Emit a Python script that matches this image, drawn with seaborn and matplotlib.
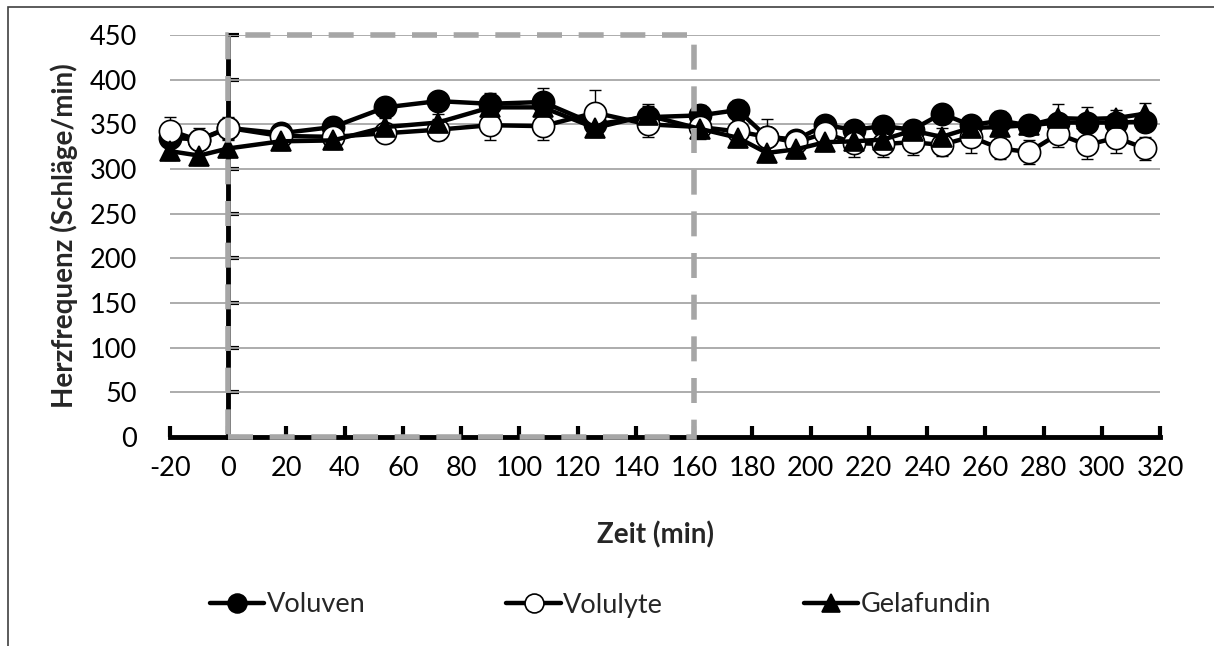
import matplotlib
matplotlib.use("Agg")
import matplotlib.pyplot as plt
from matplotlib.patches import Rectangle
import seaborn as sns

# ---- data ----
time_min = [-20, -10, 0, 18, 36, 54, 72, 90, 108, 126, 144, 162, 175, 185, 195,
            205, 215, 225, 235, 245, 255, 265, 275, 285, 295, 305, 315]
voluven = [335, 333, 346, 340, 347, 369, 376, 373, 375, 350, 358, 360, 366, 336, 333,
           349, 344, 348, 344, 362, 349, 354, 349, 352, 352, 352, 353]
voluven_err = [10, 10, 10, 10, 10, 10, 10, 12, 16, 10, 12, 12, 11, 10, 10,
               10, 10, 10, 10, 10, 10, 11, 10, 10, 10, 10, 10]
volulyte = [343, 332, 346, 337, 336, 340, 344, 349, 348, 363, 350, 347, 342, 336, 330,
            340, 329, 328, 330, 327, 336, 323, 319, 339, 327, 335, 323]
volulyte_err = [15, 14, 12, 10, 10, 10, 12, 17, 15, 25, 14, 13, 12, 20, 10,
                12, 16, 15, 14, 12, 18, 12, 13, 14, 16, 17, 13]
gelafundin = [320, 315, 323, 331, 332, 347, 352, 369, 369, 346, 360, 345, 335, 318, 322,
              330, 331, 333, 343, 336, 346, 347, 349, 357, 356, 357, 362]
gelafundin_err = [10, 10, 10, 10, 10, 10, 10, 10, 10, 10, 13, 10, 10, 10, 10,
                  10, 10, 10, 10, 10, 10, 10, 10, 16, 13, 9, 12]

x_ticks = list(range(-20, 321, 20))
y_ticks = list(range(0, 451, 50))
window_start, window_end = 0, 160

# ---- style ----
sns.set_style("white")
plt.rcParams['font.family'] = ['Lato', 'DejaVu Sans']
plt.rcParams['axes.unicode_minus'] = False

W, H = 1214, 646
fig = plt.figure(figsize=(W / 100, H / 100), dpi=100)
ax = fig.add_axes([170 / W, 1 - 437 / H, 990 / W, 402 / H])

series = [
    ("Voluven", voluven, voluven_err, 'o', 'black', 3),
    ("Volulyte", volulyte, volulyte_err, 'o', 'white', 4),
    ("Gelafundin", gelafundin, gelafundin_err, '^', 'black', 5),
]

for name, vals, err, mk, fc, z in series:
    ax.errorbar(time_min, vals, yerr=err, fmt='none', ecolor='black',
                elinewidth=1.0, capsize=4, capthick=1.0, zorder=2.5, clip_on=False)

for name, vals, err, mk, fc, z in series:
    sns.lineplot(x=time_min, y=vals, ax=ax, color='black', linewidth=3.2,
                 marker=mk, markersize=16 if mk == 'o' else 15,
                 markerfacecolor=fc, markeredgecolor='black', markeredgewidth=1.2,
                 label=name, zorder=z, clip_on=False, errorbar=None)

ax.set_xlim(-20, 320)
ax.set_ylim(0, 450)
ax.set_xticks(x_ticks)
ax.set_yticks(y_ticks)

ax.yaxis.grid(True, color='#A6A6A6', linewidth=1.3)
ax.xaxis.grid(False)
ax.set_axisbelow(True)

for s in ['top', 'right', 'left']:
    ax.spines[s].set_visible(False)
ax.spines['bottom'].set_linewidth(3.5)
ax.spines['bottom'].set_color('black')
ax.spines['bottom'].set_zorder(6)

ax.tick_params(axis='y', left=False, length=0, pad=24, labelsize=19.5, colors='black')
ax.tick_params(axis='x', bottom=True, direction='in', length=8, width=3, pad=14,
               labelsize=19.5, colors='black')

# vertical axis crossing at x = 0
sec = ax.secondary_yaxis((0 - (-20)) / 340)
sec.set_yticks(y_ticks)
sec.spines['left'].set_linewidth(3.5)
sec.spines['left'].set_color('black')
sec.tick_params(axis='y', left=True, direction='in', length=8, width=3,
                labelleft=False, color='black')

# dashed grey window
ax.add_patch(Rectangle((window_start, 0), window_end - window_start, 450,
                       fill=False, edgecolor='#A6A6A6', linewidth=4,
                       linestyle=(0, (4.5, 3)), zorder=10, clip_on=False))

ax.set_xlabel("Zeit (min)", fontsize=20, fontweight='bold')
ax.set_ylabel("Herzfrequenz (Schläge/min)", fontsize=20, fontweight='bold')
ax.xaxis.set_label_coords((655 - 170) / 990, -0.21)
ax.yaxis.set_label_coords((78 - 170) / 990, 0.5)

handles, labels = ax.get_legend_handles_labels()
leg = ax.legend(handles, labels, ncol=3, frameon=False, fontsize=19.5,
                loc='center left', bbox_to_anchor=(210 / W, 1 - 605 / H),
                bbox_transform=fig.transFigure, borderpad=0, borderaxespad=0,
                handlelength=2.0, handletextpad=0.1, columnspacing=5.2,
                markerscale=0.85)

# outer chart frame
fig.add_artist(Rectangle((8 / W, -0.2), 2, 1.2 - 7 / H, fill=False,
                         edgecolor='#404040', linewidth=1.2,
                         transform=fig.transFigure))

fig.savefig("out.png", dpi=100)
